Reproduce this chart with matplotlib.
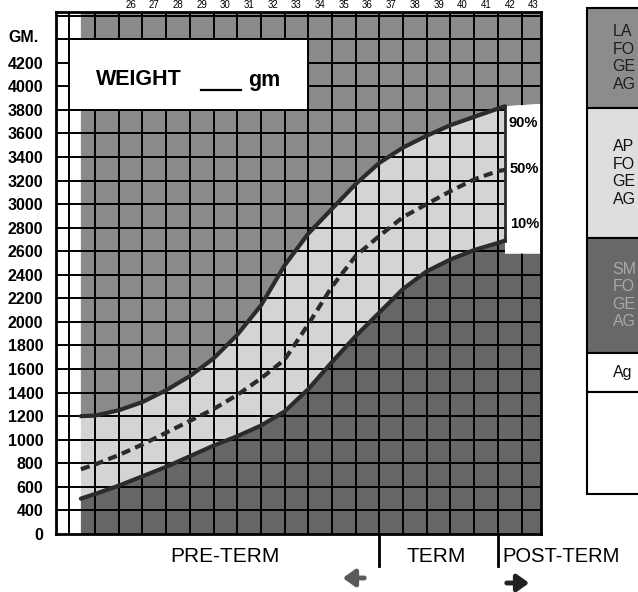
import numpy as np
import matplotlib.pyplot as plt
from matplotlib.patches import Rectangle

# gestational age (weeks) and birth-weight percentiles (g)
weeks = [24.4, 25, 26, 27, 28, 29, 30, 31, 32, 33, 34, 35, 36, 37, 38, 39, 40, 41, 42, 42.3]
p90 = [1200, 1205, 1250, 1320, 1420, 1540, 1690, 1890, 2140, 2480, 2750, 2960, 3170, 3350,
       3480, 3580, 3670, 3740, 3810, 3830]
p50 = [750, 790, 870, 960, 1060, 1160, 1260, 1380, 1520, 1680, 1980, 2300, 2560, 2730,
       2890, 3000, 3110, 3210, 3280, 3290]
p10 = [500, 540, 610, 690, 770, 860, 950, 1030, 1120, 1240, 1430, 1660, 1880, 2080,
       2280, 2430, 2530, 2610, 2670, 2690]

pct_names = ['90%', '50%', '10%']
ytick_pos = list(range(200, 4400, 200))
ytick_labels = ['0'] + [str(v) for v in range(400, 4400, 200)]
top_weeks = list(range(26, 44))
term_weeks = [37, 42]
zone_names = ['PRE-TERM', 'TERM', 'POST-TERM']
# only the left edge of the classification panel is on the page
legend_rows = ['LA\nFO\nGE\nAG', 'AP\nFO\nGE\nAG', 'SM\nFO\nGE\nAG', 'Ag', '']

plt.rcParams['font.family'] = ['Liberation Sans', 'DejaVu Sans']

W, H = 638, 592
fig = plt.figure(figsize=(W / 100, H / 100), dpi=100)

def fx(px):
    return px / W

def fy(py):
    return 1 - py / H

x0, x1 = 23.35, 43.82
y0, y1 = 200, 4630
ax = fig.add_axes([fx(56), fy(534), fx(541) - fx(56), fy(12) - fy(534)])
ax.set_xlim(x0, x1)
ax.set_ylim(y0, y1)

upper_c = '#8a8a8a'
band_c = '#d4d4d4'
lower_c = '#666666'
line_c = '#2b2b2b'

# shaded zones
start = weeks[0]
end = weeks[-1]
ax.fill([start] + weeks + [x1, x1, start], [p90[0]] + p90 + [3850, y1, y1],
        color=upper_c, lw=0, zorder=1)
ax.fill(weeks + weeks[::-1], p90 + p10[::-1], color=band_c, lw=0, zorder=1)
ax.fill([start] + weeks + [end, x1, x1, start], [y0] + p10 + [2580, 2580, y0, y0],
        color=lower_c, lw=0, zorder=1)

# grid
for g in range(400, 4630, 200):
    ax.axhline(g, color='k', lw=1.4, zorder=3)
for w in [23.9] + list(range(25, 44)):
    ax.axvline(w, color='k', lw=1.4, zorder=3)

# white area right of the curves and the weight box
ax.fill([end, x1, x1, end], [p90[-1], 3850, 2580, 2580], color='white', lw=0, zorder=4)
ax.add_patch(Rectangle((23.9, 3800), 34 - 23.9, 600, facecolor='white',
                       edgecolor='k', lw=1.4, zorder=4))
ax.text(25.05, 4060, 'WEIGHT', fontsize=15.5, fontweight='bold', va='center', zorder=6)
ax.plot([29.45, 31.15], [3970, 3970], color='k', lw=1.6, zorder=6)
ax.text(31.45, 4050, 'gm', fontsize=15.5, fontweight='bold', va='center', zorder=6)

# percentile curves
ax.plot(weeks, p90, color=line_c, lw=3, solid_capstyle='round', zorder=5)
ax.plot(weeks, p10, color=line_c, lw=3, solid_capstyle='round', zorder=5)
ax.plot(weeks, p50, color=line_c, lw=3, dashes=(2.2, 1.3), zorder=5)
ax.plot([end, end], [p10[-1], p90[-1]], color=line_c, lw=2, zorder=5)
ax.text(42.45, p90[-1] - 140, pct_names[0], fontsize=10.5, fontweight='bold', va='center', zorder=6)
ax.text(42.5, p50[-1] + 10, pct_names[1], fontsize=10.5, fontweight='bold', va='center', zorder=6)
ax.text(42.5, p10[-1] + 140, pct_names[2], fontsize=10.5, fontweight='bold', va='center', zorder=6)

# term markers below the chart
for w in term_weeks:
    ax.plot([w, w], [y0, -75], color='k', lw=2, clip_on=False, zorder=6)

ax.set_xticks([])
ax.set_yticks(ytick_pos)
ax.set_yticklabels(ytick_labels, fontsize=11.5, fontweight='bold')
ax.tick_params(axis='y', length=0, pad=9)
for s in ax.spines.values():
    s.set_linewidth(2)
    s.set_zorder(7)

fig.text(fx(8), fy(37), 'GM.', fontsize=11.5, fontweight='bold', va='center')

# week numbers along the top edge
for w in top_weeks:
    ax.text(w + 0.5, y1 + 15, str(w), fontsize=7, ha='center', va='bottom', clip_on=False)

fig.text(fx(225), fy(556), zone_names[0], fontsize=15, ha='center', va='center')
fig.text(fx(436), fy(556), zone_names[1], fontsize=15, ha='center', va='center')
fig.text(fx(502), fy(556), zone_names[2], fontsize=14.5, ha='left', va='center')

ax.annotate('', xy=(340, H - 578), xytext=(367, H - 578), xycoords='figure pixels',
            textcoords='figure pixels',
            arrowprops=dict(arrowstyle='-|>,head_width=0.5,head_length=0.7', lw=3.5,
                            color='#5a5a5a'))
ax.annotate('', xy=(532, H - 583), xytext=(504, H - 583), xycoords='figure pixels',
            textcoords='figure pixels',
            arrowprops=dict(arrowstyle='-|>,head_width=0.5,head_length=0.7', lw=3.5,
                            color='#222222'))

# classification panel on the right (runs off the page)
lg = fig.add_axes([fx(587), fy(494), 0.2, fy(8) - fy(494)])
lg.set_xlim(0, 1)
lg.set_ylim(494, 8)
lg.axis('off')
row_edges = [8, 108, 238, 353, 392, 494]
row_colors = ['#8c8c8c', '#dedede', '#686868', 'white', 'white']
text_colors = ['#1e1e1e', '#111111', '#a8a8a8', '#111111', '#111111']
for i, lab in enumerate(legend_rows):
    top, bot = row_edges[i], row_edges[i + 1]
    lg.add_patch(Rectangle((0, top), 1, bot - top, facecolor=row_colors[i],
                           edgecolor='k', lw=1.5, clip_on=False))
    lg.text(0.2, (top + bot) / 2, lab, fontsize=11.5, color=text_colors[i],
            va='center', ha='left', linespacing=1.2, clip_on=False)

fig.savefig('out.png', dpi=100)
